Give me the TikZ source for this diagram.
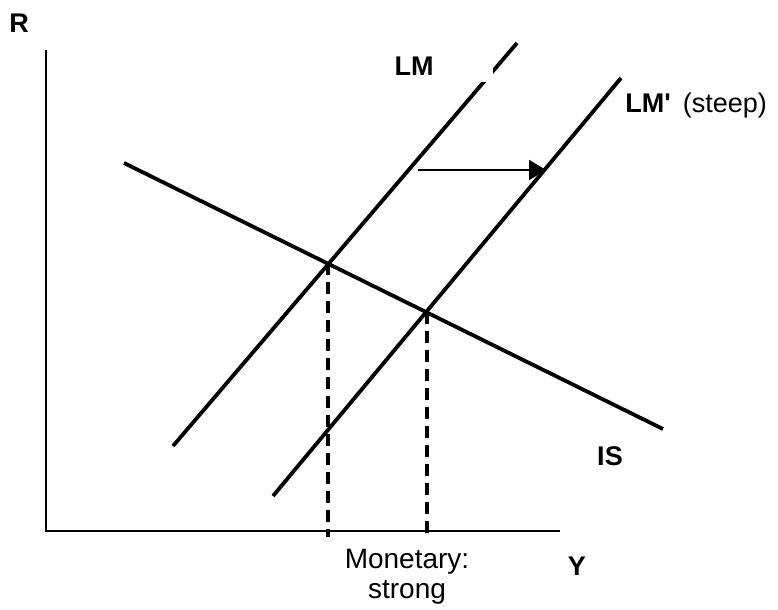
\documentclass[tikz,border=0pt]{standalone}
\usepackage{fontspec}
\setmainfont{Liberation Sans}
\usetikzlibrary{arrows.meta}

\begin{document}
\begin{tikzpicture}[x=0.5pt, y=-0.5pt, font=\fontsize{14}{15}\selectfont,
  curve/.style={line width=1.9pt},
  guide/.style={line width=1.6pt, dash pattern=on 6pt off 3.5pt},
  axislabel/.style={font=\fontsize{13.5}{15}\selectfont\bfseries, inner sep=0pt, anchor=base},
  curvelabel/.style={font=\fontsize{13.5}{15}\selectfont\bfseries, inner sep=0pt, anchor=base}]
  \useasboundingbox (0,0) rectangle (778,610);
  % Axes
  \draw[line width=1.1pt] (46,50) -- (46,531) -- (560,531);
  \node[axislabel] (rlabel) at (19,33) {R};
  \node[axislabel] (ylabel) at (577,575) {Y};
  % IS and LM curves
  \draw[curve] (124,163) -- (663,429);
  \draw[curve] (173,446) -- (517,43);
  \fill[white] (470,55) rectangle (493,82);
  \draw[curve] (273,496) -- (621,78);
  \node[curvelabel] (lm) at (414,76) {LM};
  \node[curvelabel, anchor=base west] (lmsteep) at (625,113)
    {LM\textquotesingle\hspace{6pt}\mdseries\fontsize{13.5}{15}\selectfont(steep)};
  \node[curvelabel] (is) at (610,466) {IS};
  % Shift of LM
  \coordinate (shiftfrom) at (418,170);
  \coordinate (shiftto) at (546,170);
  \draw[line width=1pt, -{Triangle[length=8.5pt,width=10pt]}] (shiftfrom) -- (shiftto);
  % Equilibria
  \coordinate (eqold) at (328,263);
  \coordinate (eqnew) at (427,312);
  \draw[guide] (eqold) -- (eqold |- 0,537);
  \draw[guide] (eqnew) -- (eqnew |- 0,537);
  \node[inner sep=0pt, anchor=north, align=center] (effect) at (407,549) {Monetary:\\strong};
\end{tikzpicture}
\end{document}
